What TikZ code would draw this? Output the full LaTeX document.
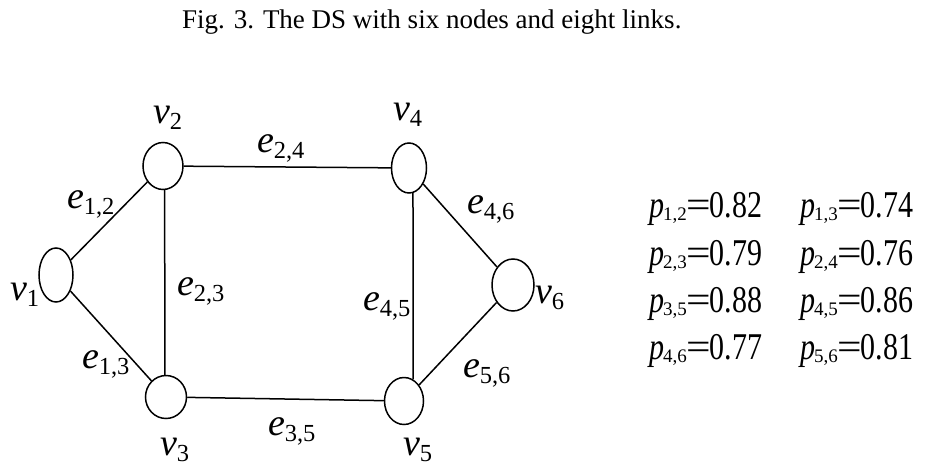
\documentclass[tikz,border=0pt]{standalone}
\usepackage{fontspec}
\setmainfont{Liberation Serif}
\usetikzlibrary{shapes.geometric}
\newcommand\glab[2]{{\fontsize{38}{38}\selectfont\itshape #1}\raisebox{-6pt}{\fontsize{24.5}{24.5}\selectfont #2}}
\newcommand\plab[2]{\scalebox{1}[1.26]{\fontsize{30}{30}\selectfont{\itshape p}\kern-1pt\raisebox{-2.5pt}{\scalebox{1}[0.8]{\fontsize{19}{19}\selectfont #1}}\kern-0.5pt\scalebox{1.45}[1]{=}\kern-1pt#2}}
\begin{document}
\begin{tikzpicture}[x=1pt,y=-1pt,
  vert/.style={ellipse,draw,line width=1.5pt,inner sep=0pt},
  edge/.style={line width=1.5pt},
  lab/.style={anchor=base west,inner sep=0pt,outer sep=0pt},
  ptab/.style={anchor=base west,inner sep=0pt,outer sep=0pt}]
\useasboundingbox (0,0) rectangle (926,466);
\node[lab,font=\fontsize{27}{27}\selectfont] (title) at (182,28) {Fig. 3. The DS with six nodes and eight links.};
% vertices
\node[vert,minimum width=34pt,minimum height=54pt] (v1) at (56,275) {};
\node[vert,minimum width=40pt,minimum height=47pt] (v2) at (163,166) {};
\node[vert,minimum width=41pt,minimum height=43pt] (v3) at (166,397) {};
\node[vert,minimum width=35pt,minimum height=50pt] (v4) at (409,168) {};
\node[vert,minimum width=39pt,minimum height=47pt] (v5) at (404,401) {};
\node[vert,minimum width=42pt,minimum height=52pt] (v6) at (513,285) {};
% edges
\draw[edge] (v1) -- (v2);
\draw[edge] (v1) -- (v3);
\draw[edge] (v2.-86) -- (v3.93);
\draw[edge] (v2) -- (v4);
\draw[edge] (v3) -- (v5);
\draw[edge] (v4.-81) -- (v5.67);
\draw[edge] (v4) -- (v6);
\draw[edge] (v5) -- (v6);
% vertex labels
\node[lab] (l1) at (10,300) {\glab{v}{1}};
\node[lab] (l2) at (153,123) {\glab{v}{2}};
\node[lab] (l3) at (160,455) {\glab{v}{3}};
\node[lab] (l4) at (393,120) {\glab{v}{4}};
\node[lab] (l5) at (403,455) {\glab{v}{5}};
\node[lab] (l6) at (535,303) {\glab{v}{6}};
% edge labels
\node[lab] (e12) at (67,208) {\glab{e}{1,2}};
\node[lab] (e24) at (257,152) {\glab{e}{2,4}};
\node[lab] (e23) at (177,295) {\glab{e}{2,3}};
\node[lab] (e13) at (82,368) {\glab{e}{1,3}};
\node[lab] (e35) at (268,435) {\glab{e}{3,5}};
\node[lab] (e45) at (363,310) {\glab{e}{4,5}};
\node[lab] (e46) at (467,213) {\glab{e}{4,6}};
\node[lab] (e56) at (463,377) {\glab{e}{5,6}};
% probability table
\node[ptab] (p12) at (649,217) {\plab{1,2}{0.82}};
\node[ptab] (p13) at (800,217) {\plab{1,3}{0.74}};
\node[ptab] (p23) at (649,265) {\plab{2,3}{0.79}};
\node[ptab] (p24) at (800,265) {\plab{2,4}{0.76}};
\node[ptab] (p35) at (649,312) {\plab{3,5}{0.88}};
\node[ptab] (p45) at (800,312) {\plab{4,5}{0.86}};
\node[ptab] (p46) at (649,359) {\plab{4,6}{0.77}};
\node[ptab] (p56) at (800,359) {\plab{5,6}{0.81}};
\end{tikzpicture}
\end{document}
